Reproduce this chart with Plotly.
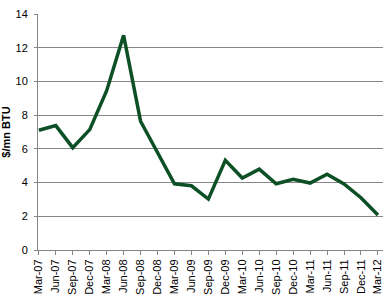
import plotly.graph_objects as go

categories = ["Mar-07","Jun-07","Sep-07","Dec-07","Mar-08","Jun-08","Sep-08","Dec-08",
              "Mar-09","Jun-09","Sep-09","Dec-09","Mar-10","Jun-10","Sep-10","Dec-10",
              "Mar-11","Jun-11","Sep-11","Dec-11","Mar-12"]
prices = [7.1, 7.38, 6.07, 7.14, 9.45, 12.74, 7.64, 5.83, 3.93, 3.81, 3.02, 5.32,
          4.27, 4.8, 3.93, 4.2, 3.97, 4.5, 3.92, 3.1, 2.08]
y_ticks = [0, 2, 4, 6, 8, 10, 12, 14]

fig = go.Figure()
fig.add_trace(go.Scatter(
    x=list(range(len(categories))), y=prices, mode="lines",
    line=dict(color="#0d5026", width=3.5), hoverinfo="skip"))

font = "Liberation Sans, Arial, sans-serif"
fig.update_layout(
    width=387, height=298,
    margin=dict(l=38, r=4, t=14, b=48),
    paper_bgcolor="white", plot_bgcolor="white",
    showlegend=False,
    font=dict(family=font, color="black", size=11),
)
fig.update_xaxes(
    range=[-0.05, 20.3],
    tickmode="array", tickvals=list(range(len(categories))), ticktext=categories,
    tickangle=-90, tickfont=dict(size=11, family=font),
    showgrid=False, zeroline=False,
    showline=True, linecolor="#868686", linewidth=1,
    ticks="outside", ticklen=4, tickcolor="#868686",
)
fig.update_yaxes(
    range=[0, 14], tickvals=y_ticks,
    tickfont=dict(size=11, family=font),
    showgrid=True, gridcolor="#868686", gridwidth=1,
    zeroline=False, showline=True, linecolor="#868686", linewidth=1,
    ticks="outside", ticklen=3, tickcolor="#868686",
    ticklabelstandoff=4,
    title=dict(text="<b>$/mn BTU</b>", font=dict(size=11, family=font), standoff=4),
)

fig.write_html("out.html")
